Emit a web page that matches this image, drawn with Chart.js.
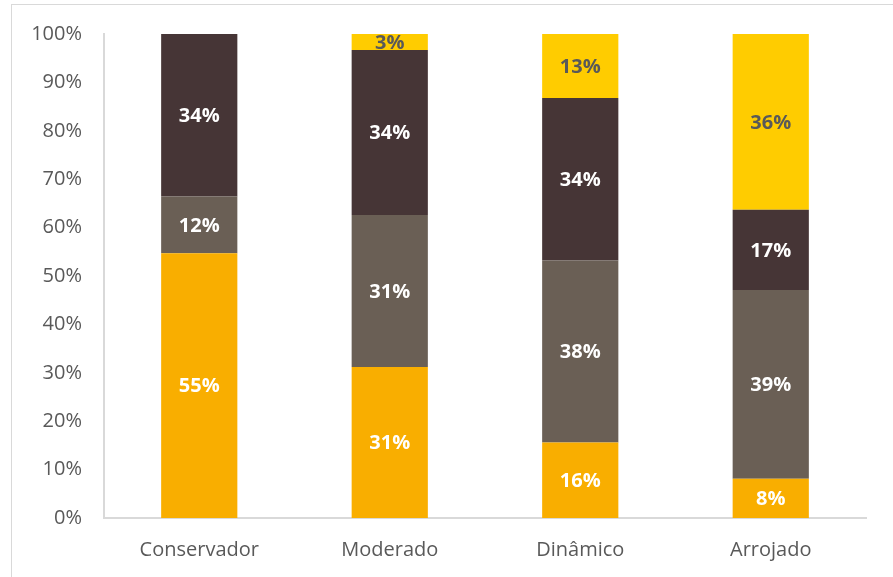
<!DOCTYPE html>
<html>
<head>
<meta charset="utf-8">
<script src="https://cdn.jsdelivr.net/npm/chart.js@4/dist/chart.umd.min.js"></script>
<style>
  html, body { margin: 0; padding: 0; background: #fff; overflow: hidden; }
  #frame { position: absolute; left: 11px; top: 4px; width: 900px; height: 600px; border: 1.5px solid #d9d9d9; box-sizing: border-box; }
  #wrap { position: absolute; left: 0; top: 0; width: 893px; height: 577px; }
</style>
</head>
<body>
<div id="frame"></div>
<div id="wrap"><canvas id="c" width="893" height="577"></canvas></div>
<script>
  const categories = ["Conservador", "Moderado", "Dinâmico", "Arrojado"];
  const base = [54.7, 31.2, 15.6, 8.1];
  const mid = [11.7, 31.4, 37.6, 39.0];
  const upperMid = [33.6, 34.1, 33.6, 16.6];
  const top_ = [0, 3.3, 13.2, 36.3];
  const yTicks = [0, 10, 20, 30, 40, 50, 60, 70, 80, 90, 100];

  const FONT = "'Open Sans', Calibri, sans-serif";

  // white / dark value labels centred in each segment
  const segLabels = {
    id: "segLabels",
    afterDatasetsDraw(chart) {
      const ctx = chart.ctx;
      ctx.save();
      ctx.font = "bold 20px " + FONT;
      ctx.textAlign = "center";
      ctx.textBaseline = "middle";
      chart.data.datasets.forEach((d, i) => {
        chart.getDatasetMeta(i).data.forEach((bar, j) => {
          const v = d.data[j];
          if (!v) return;
          ctx.fillStyle = d.labelColor;
          ctx.fillText(Math.round(v) + "%", bar.x, (bar.y + bar.base) / 2 + 1);
        });
      });
      ctx.restore();
    },
  };

  new Chart(document.getElementById("c"), {
    type: "bar",
    data: {
      labels: categories,
      datasets: [
        { data: base, backgroundColor: "#F9AE00", labelColor: "#ffffff" },
        { data: mid, backgroundColor: "#6A5F55", labelColor: "#ffffff" },
        { data: upperMid, backgroundColor: "#463536", labelColor: "#ffffff" },
        { data: top_, backgroundColor: "#FFCC00", labelColor: "#595959" },
      ].map((d) => Object.assign(d, { categoryPercentage: 1, barPercentage: 0.4, borderWidth: 0 })),
    },
    options: {
      responsive: false, animation: false,
      layout: { padding: { top: 34, right: 27, left: 0, bottom: 0 } },
      plugins: { legend: { display: false }, tooltip: { enabled: false } },
      scales: {
        x: {
          stacked: true,
          grid: { display: false, drawTicks: false },
          border: { color: "#d9d9d9", width: 2 },
          ticks: { color: "#595959", font: { family: FONT, size: 20 }, padding: 20 },
          afterFit: (s) => { s.height = 59; },
        },
        y: {
          stacked: true, min: 0, max: 100,
          afterBuildTicks: (s) => { s.ticks = yTicks.map((v) => ({ value: v })); },
          grid: { display: false, drawTicks: false },
          border: { color: "#d9d9d9", width: 2 },
          ticks: { color: "#595959", font: { family: FONT, size: 20 }, padding: 22, callback: (v) => v + "%" },
          afterFit: (s) => { s.width = 104; },
        },
      },
    },
    plugins: [segLabels],
  });
</script>
</body>
</html>
